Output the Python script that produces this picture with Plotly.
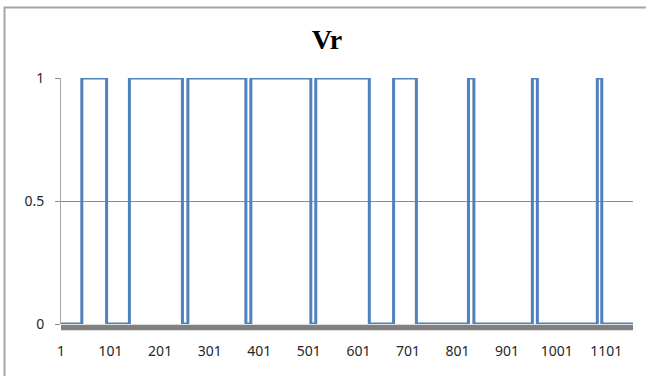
import plotly.graph_objects as go

# change points of the Vr signal (sample index, value after change)
x_idx = [1, 43, 93, 139, 246, 257, 374, 384, 505, 515, 623, 672, 718, 823, 834, 952, 962, 1083, 1092, 1155]
vr = [0, 1, 0, 1, 0, 1, 0, 1, 0, 1, 0, 1, 0, 1, 0, 1, 0, 1, 0, 0]
x_ticks = [1, 101, 201, 301, 401, 501, 601, 701, 801, 901, 1001, 1101]
y_ticks = [0, 0.5, 1]
y_labels = ["0", "0.5", "1"]

fig = go.Figure()
fig.add_trace(go.Scatter(x=x_idx, y=vr, mode="lines", line_shape="hv",
                         line=dict(color="#4F81BD", width=3), cliponaxis=False,
                         showlegend=False, hoverinfo="skip"))

tick_font = dict(family="Noto Sans", size=14, color="#262626")
fig.update_layout(
    width=646, height=376,
    margin=dict(l=61, r=13, t=78, b=52),
    paper_bgcolor="white", plot_bgcolor="white",
    title=dict(text="<b>Vr</b>", x=327/646, xanchor="center", y=1-39/376, yanchor="middle",
               xref="container", yref="container",
               font=dict(family="Liberation Serif", size=28, color="black")),
    xaxis=dict(range=[1, 1155], tickmode="array", tickvals=x_ticks,
               ticktext=[str(v) for v in x_ticks], showgrid=False, zeroline=False,
               showline=False, ticks="", tickfont=tick_font, ticklabelstandoff=17),
    yaxis=dict(range=[0, 1], tickmode="array", tickvals=y_ticks, ticktext=y_labels,
               showgrid=True, gridcolor="#8C8C8C", gridwidth=1, zeroline=False,
               showline=True, linecolor="#A6A6A6", linewidth=1,
               ticks="outside", ticklen=5, tickcolor="#8C8C8C",
               tickfont=tick_font, ticklabelstandoff=8),
    shapes=[
        dict(type="line", xref="paper", yref="paper", x0=0, x1=1, y0=-0.0145, y1=-0.0145,
             line=dict(color="#808080", width=5.5), layer="below"),
        dict(type="rect", xref="paper", yref="paper", x0=-0.0988, x1=1.3, y0=-0.6, y1=1.2866,
             line=dict(color="#A6A6A6", width=2), layer="below"),
    ],
)
fig.write_html("out.html", config={"displayModeBar": False},
               post_script="document.body.style.margin='0';document.body.style.overflow='hidden';")
